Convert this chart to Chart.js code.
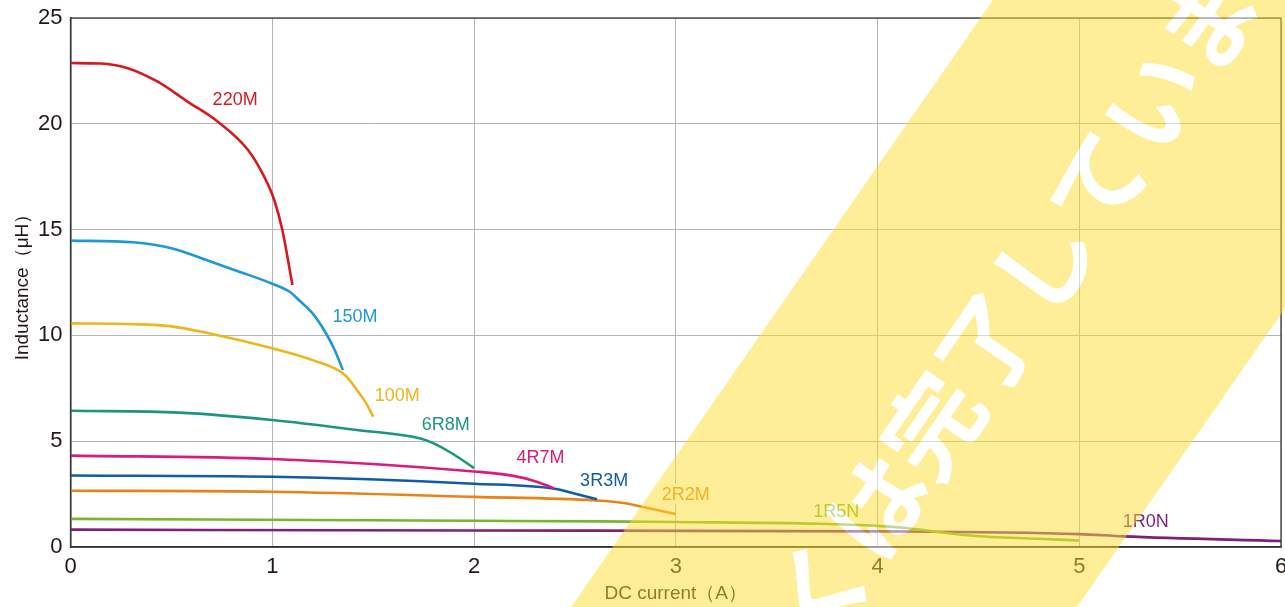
<!DOCTYPE html>
<html>
<head>
<meta charset="utf-8">
<script src="https://cdn.jsdelivr.net/npm/chart.js@4/dist/chart.umd.min.js"></script>
<style>
  html,body{margin:0;padding:0;background:#fff;}
  #wrap{width:1285px;height:607px;position:relative;}
</style>
</head>
<body>
<div id="wrap"><canvas id="c" width="1285" height="607"></canvas></div>
<script>
// ---- data (DC current in A, inductance in µH) ----
const seriesNames = ["220M","150M","100M","6R8M","4R7M","3R3M","2R2M","1R5N","1R0N"];

const I_220M = [0, 0.15, 0.28, 0.43, 0.58, 0.73, 0.88, 0.96, 1.01, 1.05, 1.1];
const L_220M = [22.87, 22.85, 22.64, 22.0, 21.05, 20.1, 18.76, 17.5, 16.4, 14.98, 12.38];

const I_150M = [0, 0.31, 0.51, 0.68, 0.84, 1.0, 1.09, 1.133, 1.2, 1.267, 1.31, 1.35];
const L_150M = [14.48, 14.4, 14.1, 13.54, 13.0, 12.44, 12.04, 11.66, 11.04, 10.09, 9.3, 8.36];

const I_100M = [0, 0.31, 0.49, 0.69, 1.0, 1.2, 1.36, 1.42, 1.465, 1.5];
const L_100M = [10.57, 10.53, 10.44, 10.09, 9.39, 8.83, 8.13, 7.42, 6.8, 6.16];

const I_6R8M = [0, 0.54, 1.0, 1.42, 1.73, 1.8, 1.89, 2.0];
const L_6R8M = [6.44, 6.35, 6.0, 5.53, 5.14, 4.9, 4.43, 3.73];

const I_4R7M = [0, 1.0, 2.0, 2.196, 2.306, 2.395];
const L_4R7M = [4.32, 4.16, 3.57, 3.36, 3.1, 2.78];

const I_3R3M = [0, 1.0, 2.0, 2.4, 2.506, 2.61];
const L_3R3M = [3.38, 3.32, 2.99, 2.75, 2.51, 2.26];

const I_2R2M = [0, 1.0, 2.0, 2.6, 2.75, 2.86, 3.0];
const L_2R2M = [2.66, 2.61, 2.37, 2.2, 2.07, 1.84, 1.56];

const I_1R5N = [0, 2.0, 2.63, 3.0, 3.71, 4.0, 4.14, 4.3, 4.47, 4.79, 5.0];
const L_1R5N = [1.33, 1.24, 1.21, 1.18, 1.1, 1.0, 0.9, 0.71, 0.53, 0.39, 0.31];

const I_1R0N = [0, 2.0, 4.0, 5.0, 5.22, 6.0];
const L_1R0N = [0.82, 0.78, 0.74, 0.61, 0.5, 0.28];

// label anchors in data units (current, inductance)
const labelI = [0.816, 1.41, 1.62, 1.86, 2.33, 2.645, 3.05, 3.795, 5.33];
const labelL = [21.15, 10.92, 7.19, 5.82, 4.26, 3.17, 2.52, 1.71, 1.25];

const xTicks = [0, 1, 2, 3, 4, 5, 6];
const yTicks = [0, 5, 10, 15, 20, 25];

const xTitle = "DC current（A）";
const yTitle = "Inductance（μH）";
const watermarkText = "くは完了しています";

// ---- styles ----
const colors = ["#d7191f","#1f97d8","#efb51c","#1a977d","#dc1a7a","#105ca6","#ea8216","#7ab52a","#7c1f7f"];

const Is = [I_220M,I_150M,I_100M,I_6R8M,I_4R7M,I_3R3M,I_2R2M,I_1R5N,I_1R0N];
const Ls = [L_220M,L_150M,L_100M,L_6R8M,L_4R7M,L_3R3M,L_2R2M,L_1R5N,L_1R0N];

const datasets = seriesNames.map((n, k) => ({
  label: n,
  data: Is[k].map((x, j) => ({x: x, y: Ls[k][j]})),
  borderColor: colors[k],
  backgroundColor: colors[k],
  borderWidth: 2.6,
  pointRadius: 0,
  cubicInterpolationMode: 'monotone',
  fill: false
}));

const TXT = "#231815";
const FONT = "'Liberation Sans', Arial, Helvetica, sans-serif";

const labelPlugin = {
  id: 'curveLabels',
  afterDatasetsDraw(chart) {
    const ctx = chart.ctx, xs = chart.scales.x, ys = chart.scales.y, a = chart.chartArea;
    ctx.save();
    ctx.strokeStyle = "#3a3a3a";
    ctx.lineWidth = 1.3;
    ctx.strokeRect(a.left, a.top, a.right - a.left, a.bottom - a.top);
    ctx.font = "18px " + FONT;
    ctx.textAlign = "center";
    ctx.textBaseline = "middle";
    seriesNames.forEach((n, k) => {
      const px = xs.getPixelForValue(labelI[k]);
      const py = ys.getPixelForValue(labelL[k]);
      const w = ctx.measureText(n).width;
      ctx.fillStyle = "#ffffff";
      ctx.fillRect(px - w / 2 - 2, py - 10, w + 4, 20);
      ctx.fillStyle = colors[k];
      ctx.fillText(n, px, py + 1);
    });
    ctx.restore();
  }
};

const watermarkPlugin = {
  id: 'watermark',
  afterDraw(chart) {
    const W = chart.width, H = chart.height;
    const off = document.createElement('canvas');
    off.width = W; off.height = H;
    const o = off.getContext('2d');
    o.fillStyle = "rgb(255,222,50)";
    o.beginPath();
    o.moveTo(993, 0);
    o.lineTo(1500, 0);
    o.lineTo(1077, 607);
    o.lineTo(571, 607);
    o.closePath();
    o.fill();
    const ang = -Math.atan2(1, 0.684);
    const fs = 98;
    o.translate(877, 506);
    o.rotate(ang);
    o.font = "bold " + fs + "px 'Noto Sans CJK JP'";
    o.textAlign = "left";
    o.textBaseline = "middle";
    o.fillStyle = "#ffffff";
    o.fillText(watermarkText, -1.5 * fs, 0);
    const ctx = chart.ctx;
    ctx.save();
    ctx.globalAlpha = 0.5;
    ctx.drawImage(off, 0, 0);
    ctx.restore();
  }
};

new Chart(document.getElementById('c'), {
  type: 'line',
  data: { datasets: datasets },
  options: {
    responsive: false,
    animation: false,
    devicePixelRatio: 1,
    layout: { padding: { top: 18, right: 0, left: 0, bottom: 0 } },
    plugins: {
      legend: { display: false },
      tooltip: { enabled: false }
    },
    scales: {
      x: {
        type: 'linear',
        min: 0, max: 6,
        afterBuildTicks(s) { s.ticks = xTicks.map(v => ({value: v})); },
        afterFit(s) { s.height = 60; s.paddingRight = 4; s.paddingLeft = 0; },
        ticks: { color: TXT, font: { family: FONT, size: 22 }, padding: 7 },
        grid: { color: "#b5b5b5", lineWidth: 1, drawTicks: false },
        border: { color: "#2a2a2a", width: 1.5 },
        title: { display: true, text: xTitle, color: TXT, font: { family: FONT, size: 19 }, padding: { top: 0, bottom: 2 } }
      },
      y: {
        min: 0, max: 25,
        afterBuildTicks(s) { s.ticks = yTicks.map(v => ({value: v})); },
        afterFit(s) { s.width = 70.5; s.paddingTop = 0; s.paddingBottom = 0; },
        ticks: { color: TXT, font: { family: FONT, size: 22 }, padding: 8 },
        grid: { color: "#b5b5b5", lineWidth: 1, drawTicks: false },
        border: { color: "#2a2a2a", width: 1.5 },
        title: { display: true, text: yTitle, color: TXT, font: { family: FONT, size: 19 }, padding: { top: 11, bottom: 0 } }
      }
    }
  },
  plugins: [labelPlugin, watermarkPlugin]
});
</script>
</body>
</html>
